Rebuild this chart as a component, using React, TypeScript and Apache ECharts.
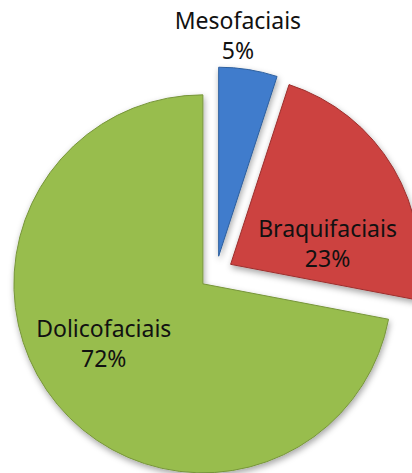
import React, { useEffect, useRef } from "react";
import * as echarts from "echarts";

const categories = ["Mesofaciais", "Braquifaciais", "Dolicofaciais"];
const values = [5, 23, 72];
const colors = ["#3f7ccc", "#cc4240", "#98bd4e"];
const borderColors = ["#2d5f9e", "#9c2f2d", "#77953a"];
// label nudges (dx, dy) relative to library's inside label position
const labelNudges: [number, number][] = [
  [4, -125],
  [13, 28],
  [-24, -3],
];

export default function App() {
  const ref = useRef<HTMLDivElement>(null);
  useEffect(() => {
    document.body.style.margin = "0";
    const chart = echarts.init(ref.current!, undefined, { renderer: "svg" });
    chart.setOption({
      animation: false,
      backgroundColor: "#ffffff",
      series: [
        {
          type: "pie",
          center: [216, 273],
          radius: [0, 189],
          startAngle: 90,
          clockwise: true,
          selectedMode: "multiple",
          selectedOffset: 17,
          avoidLabelOverlap: false,
          label: {
            show: true,
            position: "inside",
            formatter: "{b}\n{c}%",
            fontFamily: "Noto Sans",
            fontSize: 23,
            lineHeight: 30,
            color: "#111111",
            align: "center",
          },
          labelLine: { show: false },
          labelLayout: (p: any) => ({
            dx: labelNudges[p.dataIndex][0],
            dy: labelNudges[p.dataIndex][1],
          }),
          emphasis: { disabled: true },
          data: categories.map((name, i) => ({
            name,
            value: values[i],
            selected: true,
            itemStyle: {
              color: colors[i],
              borderColor: borderColors[i],
              borderWidth: 1,
              shadowBlur: 6,
              shadowColor: "rgba(0,0,0,0.35)",
              shadowOffsetX: 1,
              shadowOffsetY: 3,
            },
          })),
        },
      ],
    });
    return () => chart.dispose();
  }, []);
  return <div ref={ref} style={{ width: 412, height: 473 }} />;
}
